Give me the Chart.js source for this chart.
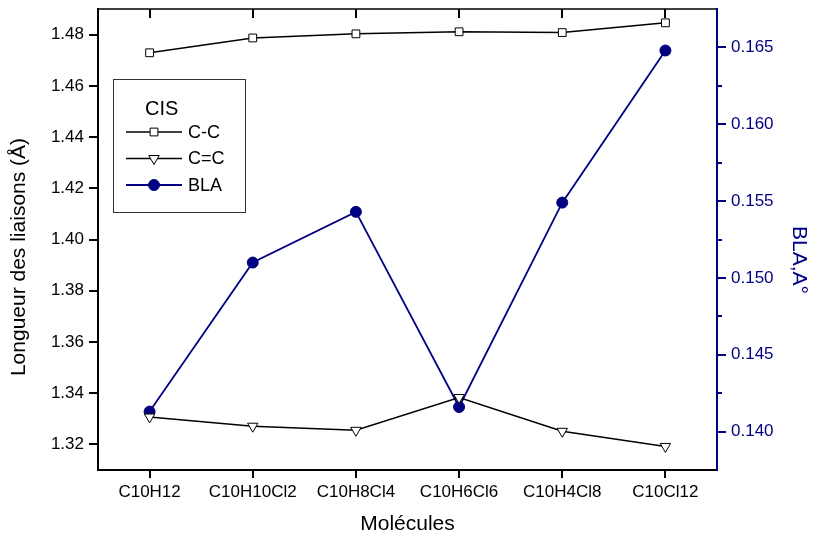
<!DOCTYPE html>
<html><head><meta charset="utf-8">
<script src="https://cdn.jsdelivr.net/npm/chart.js@4/dist/chart.umd.min.js"></script>
<style>html,body{margin:0;padding:0;background:#fff}canvas{display:block}</style>
</head><body>
<canvas id="c" width="814" height="543"></canvas>
<script>
const categories = ['C10H12','C10H10Cl2','C10H8Cl4','C10H6Cl6','C10H4Cl8','C10Cl12'];
const ccValues  = [1.4729, 1.4787, 1.4803, 1.4811, 1.4808, 1.4846];
const cdcValues = [1.3307, 1.3271, 1.3255, 1.3383, 1.3251, 1.3192];
const blaValues = [0.1413, 0.1510, 0.1543, 0.1416, 0.1549, 0.1648];
const leftTicks = [1.32, 1.34, 1.36, 1.38, 1.40, 1.42, 1.44, 1.46, 1.48];
const rightMajorTicks = [0.140, 0.145, 0.150, 0.155, 0.160, 0.165];
const rightMinorTicks = [0.1425, 0.1475, 0.1525, 0.1575, 0.1625];
const seriesNames = ['C-C', 'C=C', 'BLA'];
const legendTitle = 'CIS';

const NAVY = '#000080';
const FONT = '"Liberation Sans", Arial, sans-serif';
Chart.defaults.font.family = FONT;
const NB = '\u00A0';

const decor = {
  id: 'decor',
  afterDraw(chart) {
    const ctx = chart.ctx;
    const a = chart.chartArea;
    const x = chart.scales.x, y2 = chart.scales.y2;
    ctx.save();
    // top border + inward ticks
    ctx.strokeStyle = '#000';
    ctx.lineWidth = 1.5;
    ctx.beginPath();
    ctx.moveTo(a.left - 1, a.top); ctx.lineTo(a.right, a.top); ctx.stroke();
    ctx.lineWidth = 2;
    categories.forEach((c, i) => {
      const px = Math.round(x.getPixelForValue(i));
      ctx.beginPath(); ctx.moveTo(px, a.top); ctx.lineTo(px, a.top + 9); ctx.stroke();
    });
    // right minor ticks
    ctx.strokeStyle = NAVY;
    rightMinorTicks.forEach(v => {
      const py = Math.round(y2.getPixelForValue(v));
      ctx.beginPath(); ctx.moveTo(a.right, py); ctx.lineTo(a.right + 5, py); ctx.stroke();
    });
    // legend box
    ctx.strokeStyle = '#333';
    ctx.lineWidth = 1;
    ctx.strokeRect(113.5, 79.5, 132, 133);
    ctx.fillStyle = '#000';
    ctx.textBaseline = 'middle';
    ctx.textAlign = 'left';
    ctx.font = '20px ' + FONT;
    ctx.fillText(legendTitle, 145, 109);
    ctx.font = '18px ' + FONT;
    chart.data.datasets.forEach((ds, i) => {
      const ry = 132 + i * 26.5;
      ctx.strokeStyle = ds.borderColor;
      ctx.lineWidth = ds.borderWidth;
      ctx.beginPath(); ctx.moveTo(126, ry); ctx.lineTo(182, ry); ctx.stroke();
      ctx.fillStyle = ds.pointBackgroundColor;
      ctx.strokeStyle = ds.pointBorderColor;
      ctx.lineWidth = 1;
      Chart.helpers.drawPoint(ctx, {pointStyle: ds.pointStyle, radius: ds.pointRadius, rotation: ds.pointRotation || 0, borderWidth: 1}, 154, ry);
      ctx.fillStyle = '#000';
      ctx.fillText(ds.label, 188, ry + 1);
    });
    ctx.restore();
  }
};

function noPad(s) { s.paddingTop = 0; s.paddingBottom = 0; }

new Chart(document.getElementById('c'), {
  type: 'line',
  data: {
    labels: categories,
    datasets: [
      { label: seriesNames[0], data: ccValues, yAxisID: 'y', borderColor: '#000', borderWidth: 1.5,
        pointStyle: 'rect', pointRadius: 5.5, pointBackgroundColor: '#fff', pointBorderColor: '#000', pointBorderWidth: 1, tension: 0 },
      { label: seriesNames[1], data: cdcValues, yAxisID: 'y', borderColor: '#000', borderWidth: 1.5,
        pointStyle: 'triangle', pointRotation: 180, pointRadius: 6, pointBackgroundColor: '#fff', pointBorderColor: '#000', pointBorderWidth: 1, tension: 0 },
      { label: seriesNames[2], data: blaValues, yAxisID: 'y2', borderColor: NAVY, borderWidth: 1.8,
        pointStyle: 'circle', pointRadius: 5.5, pointBackgroundColor: NAVY, pointBorderColor: NAVY, pointBorderWidth: 1, tension: 0 }
    ]
  },
  options: {
    responsive: false,
    animation: false,
    devicePixelRatio: 1,
    layout: { padding: { top: 9, left: 0, right: 0, bottom: 0 } },
    plugins: { legend: { display: false }, tooltip: { enabled: false } },
    scales: {
      x: {
        type: 'category', offset: true, position: 'bottom',
        grid: { drawOnChartArea: false, tickLength: 8, color: '#000', lineWidth: 2 },
        border: { color: '#000', width: 2 },
        ticks: { color: '#000', font: { size: 17 }, padding: 4, maxRotation: 0, autoSkip: false },
        title: { display: true, text: 'Molécules', color: '#000', font: { size: 21 }, padding: { top: 0, bottom: 6 } },
        afterFit(s) { s.height = 73; s.paddingLeft = 0; s.paddingRight = 0; }
      },
      y: {
        position: 'left', min: 1.31, max: 1.49,
        afterBuildTicks(s) { s.ticks = leftTicks.map(v => ({ value: v })); },
        grid: { drawOnChartArea: false, tickLength: 9, color: '#000', lineWidth: 2 },
        border: { color: '#000', width: 2 },
        ticks: { color: '#000', font: { size: 17 }, padding: 5, callback: v => Number(v).toFixed(2) },
        title: { display: true, text: 'Longueur des liaisons (Å)' + NB.repeat(6), color: '#000', font: { size: 21 }, padding: { top: 7, bottom: 0 } },
        afterFit(s) { s.width = 98; noPad(s); }
      },
      y2: {
        position: 'right', min: 0.1375, max: 0.1675,
        afterBuildTicks(s) { s.ticks = rightMajorTicks.map(v => ({ value: v })); },
        grid: { drawOnChartArea: false, tickLength: 9, color: NAVY, lineWidth: 2 },
        border: { color: NAVY, width: 2 },
        ticks: { color: NAVY, font: { size: 17 }, padding: 5, callback: v => Number(v).toFixed(3) },
        title: { display: true, text: NB.repeat(7) + 'BLA,A°', color: NAVY, font: { size: 21 }, padding: { top: 3, bottom: 0 } },
        afterFit(s) { s.width = 97; noPad(s); }
      }
    }
  },
  plugins: [decor]
});
</script>
</body></html>
